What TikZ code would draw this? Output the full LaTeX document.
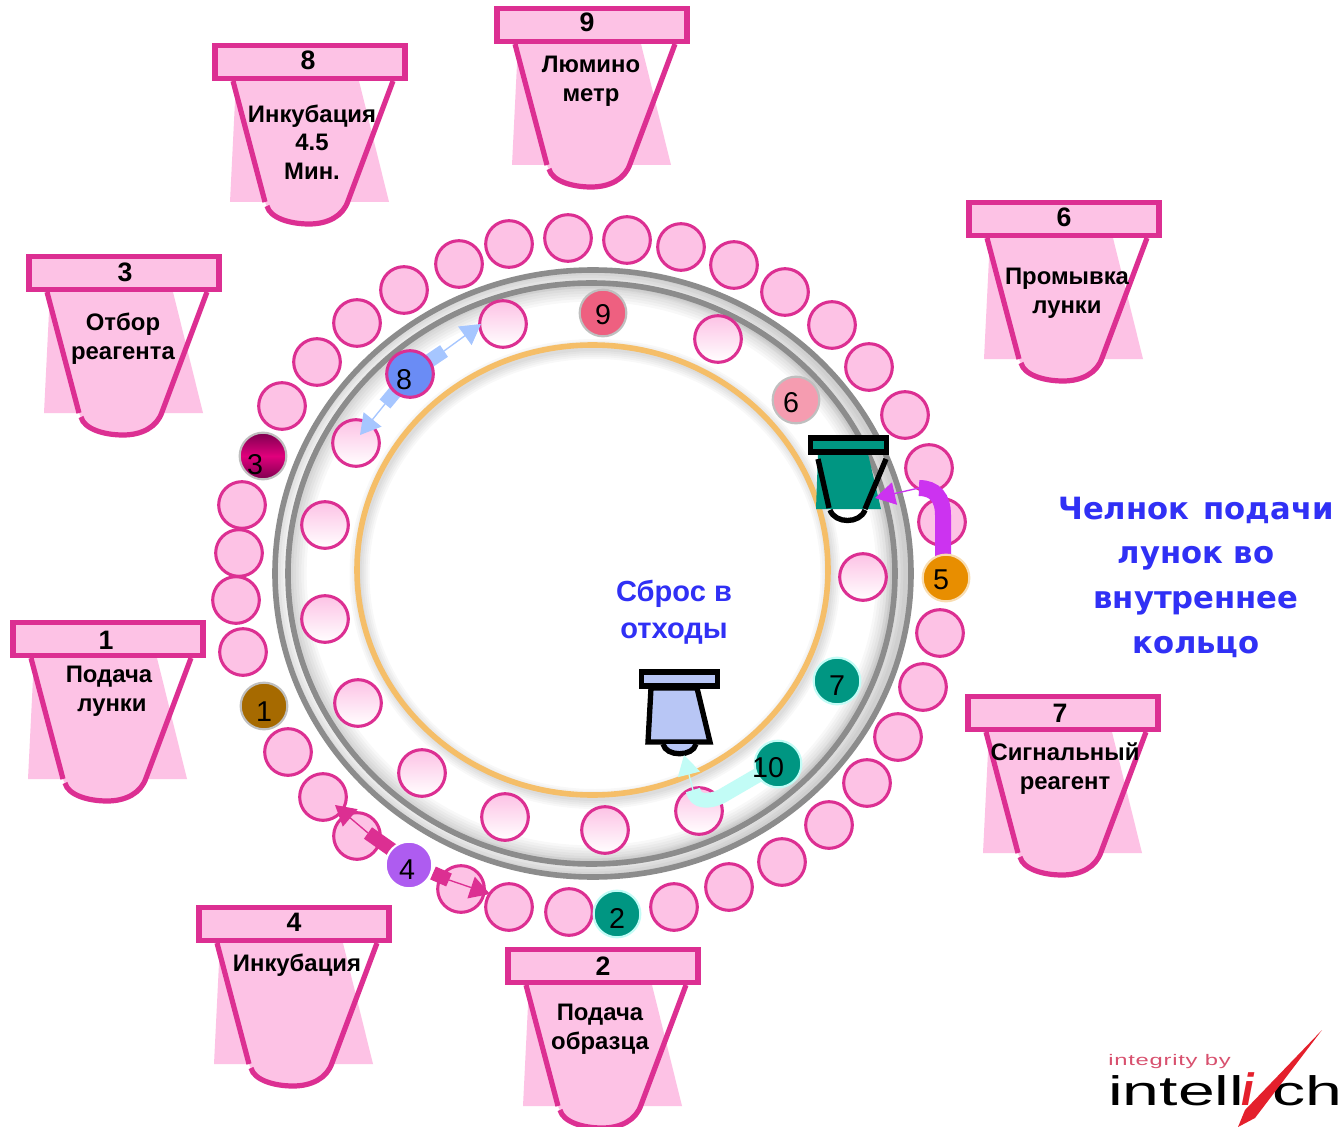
\documentclass[tikz,border=0pt]{standalone}
\usepackage{fontspec}
\setmainfont{Liberation Sans}
\newfontfamily\headfont{DejaVu Sans}
\newfontfamily\logofont[FakeStretch=1.6]{Liberation Sans}
\newfontfamily\logosmall[FakeStretch=1.55,LetterSpace=5]{Liberation Sans}
\usetikzlibrary{arrows.meta,shapes.geometric}
\definecolor{pinkfill}{HTML}{FDC2E5}
\definecolor{pinkline}{HTML}{DC2F92}
\definecolor{ringgray}{HTML}{8C8C8C}
\definecolor{ringorange}{HTML}{F5BE68}
\definecolor{tealc}{HTML}{009682}
\definecolor{paleteal}{HTML}{C2FCF6}
\definecolor{paleblue}{HTML}{A6C6FF}
\definecolor{cupblue}{HTML}{B8C6F5}
\definecolor{shuttle}{HTML}{CC33F0}
\definecolor{textblue}{HTML}{3030F5}
\definecolor{logored}{HTML}{E4202C}
\definecolor{logopink}{HTML}{D8506E}
\definecolor{brownc}{HTML}{A66A00}
\definecolor{orangec}{HTML}{E88E00}
\definecolor{purplec}{HTML}{AE5CF0}
\definecolor{rosec}{HTML}{F59CB0}
\definecolor{redc}{HTML}{EE6080}
\definecolor{bluemid}{HTML}{1E50F5}
\definecolor{blueedge}{HTML}{6A8CF5}
\definecolor{magmid}{HTML}{E0007C}
\definecolor{magedge}{HTML}{7E0050}
\tikzset{
  x=0.75pt,y=-0.75pt,
  wellbase/.style={circle,draw=pinkline,line width=2.3pt,minimum size=35pt,inner sep=0pt},
  outerwell/.style={wellbase,fill=pinkfill},
  innerwell/.style={wellbase,top color=pinkfill,bottom color=white},
  numdot/.style={circle,minimum size=35pt,inner sep=0pt,line width=1.6pt},
  numtext/.style={inner sep=0pt,font=\fontsize{21.5}{21.5}\selectfont,text height=15.4pt,text depth=0pt},
  grayedge/.style={numdot,draw=black!25},
  cuptext/.style={font=\bfseries\fontsize{17.9}{17.9}\selectfont,inner sep=0pt,anchor=center,text height=12.8pt,text depth=0pt},
  cupnumber/.style={font=\bfseries\fontsize{20}{20}\selectfont,inner sep=0pt,anchor=center,text height=14.3pt,text depth=0pt},
  cupline/.style={draw=pinkline,line width=3.9pt},
  thickseg/.style={line width=10.5pt},
  thinarrow/.style={line width=1pt,-{Triangle[length=15pt,width=17pt]}},
  ringshadow/.style={draw=black,opacity=0.028},
  ringline/.style={line width=4.2pt},
  bluelabel/.style={text=textblue,inner sep=0pt,align=center,font=\bfseries\fontsize{21.8}{27.7}\selectfont},
  shuttlelabel/.style={text=textblue,inner sep=0pt,align=center,font=\headfont\bfseries\fontsize{23}{33.5}\selectfont},
  blackcup/.style={draw=black,line width=4pt},
}
% name, left, top, number, number x, number y
\newcommand{\pinkcup}[6]{%
  \begin{scope}[shift={(#2,#3)}]
    \fill[pinkfill] (24,38) -- (147,38) -- (177,159) -- (18,159) -- cycle;
    \fill[pinkfill] (53,159) .. controls (58,175) and (78,181) .. (97,181) .. controls (116,181) and (131,173) .. (136,158) -- cycle;
    \draw[cupline] (21,38) -- (53,159);
    \draw[cupline] (181,38) -- (136,158) .. controls (131,173) and (116,181) .. (97,181) .. controls (78,181) and (58,175) .. (55,163);
    \node[draw=pinkline,fill=pinkfill,line width=3.8pt,minimum width=142.5pt,minimum height=24.5pt,inner sep=0pt,anchor=center] (#1) at (98,19) {};
    \node[cupnumber] (#1num) at (#5,#6) {#4};
  \end{scope}}
\begin{document}
\begin{tikzpicture}
\useasboundingbox (0,0) rectangle (1343,1127);
\fill[white] (0,0) rectangle (1343,1127);
% soft shadows: inside each gray ring, offset behind the orange ring
\begin{scope}
  \clip (593,573.5) ellipse [x radius=318,y radius=303.5];
  \foreach \w in {4,8,12,16,20,24,28}{
    \draw[ringshadow,line width=\w pt] (588,573.5) ellipse [x radius=318,y radius=303.5];
  }
\end{scope}
\begin{scope}
  \clip (591.5,573.5) ellipse [x radius=303.5,y radius=290.5];
  \foreach \w in {4,8,12,16,20,24,28}{
    \draw[ringshadow,line width=\w pt] (591.5,573.5) ellipse [x radius=303.5,y radius=290.5];
  }
\end{scope}
\foreach \w in {3,6,9,12,15}{
  \draw[ringshadow,line width=\w pt] (595,574) ellipse [x radius=235.5,y radius=225];
}
% rings
\draw[ringgray,ringline] (593,573.5) ellipse [x radius=318,y radius=303.5];
\draw[ringgray,ringline] (591.5,573.5) ellipse [x radius=303.5,y radius=290.5];
\draw[ringorange,ringline] (592.5,570) ellipse [x radius=235.5,y radius=225];
% outer wells
\foreach \n/\px/\py in {a/509/244,b/568/238,c/627/240,d/681/247,e/734/265,f/785/292,g/832/325,h/869/367,i/905/415,j/929/468,k/942/522,l/940/633,m/923/687,n/898/737,o/867/783,p/829/825,q/782/862,r/729/887,s/674/907,t/569/912,u/509/907,v/461/889,w/357/836,x/323/797,y/288/752,z/243/652,aa/236/600,ab/239/553,ac/242/505,ad/282/406,ae/317/362,af/357/323,ag/404/290,ah/459/264}
  \node[outerwell] (out\n) at (\px,\py) {};
% inner wells
\foreach \n/\px/\py in {a/503/324,b/718/339,c/863/577,d/699/811,e/605/830,f/505/817,g/422/773,h/358/703,i/325/619,j/325/525,k/356/443}
  \node[innerwell] (in\n) at (\px,\py) {};
% green washing cup
\fill[tealc] (818,454) -- (868,454) -- (881,509) -- (816,509) -- cycle;
\draw[blackcup] (818,459) -- (829,508);
\draw[blackcup] (886,459) -- (865,509);
\draw[blackcup] (830,510) .. controls (835,524) and (860,524) .. (865,510);
\node[draw=black,fill=tealc,line width=3.8pt,minimum width=57pt,minimum height=10.5pt,inner sep=0pt] (greencup) at (848.5,445) {};
% blue waste cup
\filldraw[fill=cupblue,blackcup] (651,688) -- (697,688) -- (710,742) -- (648,742) -- cycle;
\filldraw[fill=cupblue,blackcup] (663,744) .. controls (666,757) and (693,757) .. (696,744);
\node[draw=black,fill=cupblue,line width=3.8pt,minimum width=57pt,minimum height=10.5pt,inner sep=0pt] (bluecup) at (679.5,679) {};
% pink cups
\pinkcup{cupeight}{212}{43}{8}{96}{17}
\node[cuptext] (teight) at (312,114) {Инкубация};
\node[cuptext] (teightb) at (312,142) {4.5};
\node[cuptext] (teightc) at (312,171) {Мин.};
\pinkcup{cupnine}{494}{6}{9}{93}{16}
\node[cuptext] (tnine) at (591,64) {Люмино};
\node[cuptext] (tnineb) at (591,93) {метр};
\pinkcup{cupsix}{966}{200}{6}{98}{17}
\node[cuptext] (tsix) at (1067,276) {Промывка};
\node[cuptext] (tsixb) at (1067,305) {лунки};
\pinkcup{cupthree}{26}{254}{3}{99}{18}
\node[cuptext] (tthree) at (123,322) {Отбор};
\node[cuptext] (tthreeb) at (123,351) {реагента};
\pinkcup{cupone}{10}{620}{1}{96}{20}
\node[cuptext] (tone) at (109,674) {Подача};
\node[cuptext] (toneb) at (112,703) {лунки};
\pinkcup{cupseven}{965}{694}{7}{95}{19}
\node[cuptext] (tseven) at (1065,752) {Сигнальный};
\node[cuptext] (tsevenb) at (1065,781) {реагент};
\pinkcup{cupfour}{196}{905}{4}{98}{17}
\node[cuptext] (tfour) at (297,963) {Инкубация};
\pinkcup{cuptwo}{505}{947}{2}{98}{19}
\node[cuptext] (ttwo) at (600,1012) {Подача};
\node[cuptext] (ttwob) at (600,1041) {образца};
% free ends of the transfer arrows
\coordinate (eightup) at (444,351);
\coordinate (eightuptip) at (481,324);
\coordinate (eightdown) at (385,404);
\coordinate (eightdowntip) at (360,435);
\coordinate (fourleftstart) at (395,852);
\coordinate (fourleft) at (368,833);
\coordinate (fourlefttip) at (335,805);
\coordinate (fourrightstart) at (433,873);
\coordinate (fourright) at (449,880);
\coordinate (fourrighttip) at (490,894);
\coordinate (fivebend) at (919,488);
\coordinate (fivetip) at (875,498);
\coordinate (tenbend) at (693,790);
\coordinate (tentip) at (684,755);
\coordinate (p5c) at (943,560);
\coordinate (p8c) at (410,374);
\coordinate (p10c) at (765,771);
\draw[paleblue,thickseg] (p8c) -- (eightup);
\draw[paleblue,thinarrow] (eightup) -- (eightuptip);
\draw[paleblue,thickseg] (p8c) -- (eightdown);
\draw[paleblue,thinarrow] (eightdown) -- (eightdowntip);
\draw[pinkline,thickseg] (fourleftstart) -- (fourleft);
\draw[pinkline,thinarrow] (fourleft) -- (fourlefttip);
\draw[pinkline,thickseg] (fourrightstart) -- (fourright);
\draw[pinkline,thinarrow] (fourright) -- (fourrighttip);
\draw[shuttle,line width=12pt] (p5c) -- (943,515) .. controls (943,498) and (935,488) .. (fivebend);
\draw[shuttle,thinarrow] (fivebend) -- (fivetip);
\draw[paleteal,line width=11pt,line join=round] (p10c) -- (722,796) .. controls (708,803) and (695,802) .. (tenbend);
\draw[paleteal,thinarrow] (tenbend) -- (tentip);
% numbered dots
\node[grayedge,fill=brownc] (p1) at (264,706) {};
\node[numdot,fill=tealc,draw=paleteal] (p2) at (617,914) {};
\node[grayedge,top color=magedge,bottom color=magedge,middle color=magmid] (p3) at (263,456) {};
\node[numdot,fill=purplec,draw=white] (p4) at (409,865) {};
\node[numdot,fill=orangec,draw=orangec!30!white] (p5) at (946,578) {};
\node[grayedge,fill=rosec] (p6) at (796,400) {};
\node[numdot,fill=tealc,draw=paleteal] (p7) at (837,681) {};
\node[numdot,top color=blueedge,middle color=bluemid,bottom color=blueedge,draw=pinkline,line width=2.3pt] (p8) at (p8c) {};
\node[grayedge,fill=redc] (p9) at (603,313) {};
\node[numdot,fill=tealc,draw=paleteal] (p10) at (778,764) {};
\node[numtext] (n1) at (264,711) {1};
\node[numtext] (n2) at (617,918) {2};
\node[numtext] (n3) at (255,464) {3};
\node[numtext] (n4) at (407,869) {4};
\node[numtext] (n5) at (941,579) {5};
\node[numtext] (n6) at (791,402) {6};
\node[numtext] (n7) at (837,685) {7};
\node[numtext] (n8) at (404,379) {8};
\node[numtext] (n9) at (603,314) {9};
\node[numtext] (n10) at (768,767) {10};
% labels
\node[bluelabel] (waste) at (674,612) {Сброс в\\отходы};
\node[shuttlelabel] (shuttletext) at (1196,577) {Челнок\hspace{0.45em}подачи\\лунок во\\внутреннее\\кольцо};
% logo
\node[inner sep=0pt,anchor=west,text=logopink,font=\logosmall\fontsize{11.5}{11.5}\selectfont] (logotop) at (1108,1062) {integrity by};
\node[inner sep=0pt,anchor=base west,font=\logofont\fontsize{31}{31}\selectfont] (logoa) at (1108,1105) {intell};
\node[inner sep=0pt,anchor=base east,font=\logofont\fontsize{31}{31}\selectfont] (logob) at (1343,1105) {ch};
\node[inner sep=0pt,anchor=base,text=logored,font=\bfseries\itshape\fontsize{34}{34}\selectfont] (logoc) at (1248,1105) {i};
\fill[logored] (1238,1127) -- (1245,1110) -- (1322,1030) -- (1255,1118) -- cycle;
\end{tikzpicture}
\end{document}
